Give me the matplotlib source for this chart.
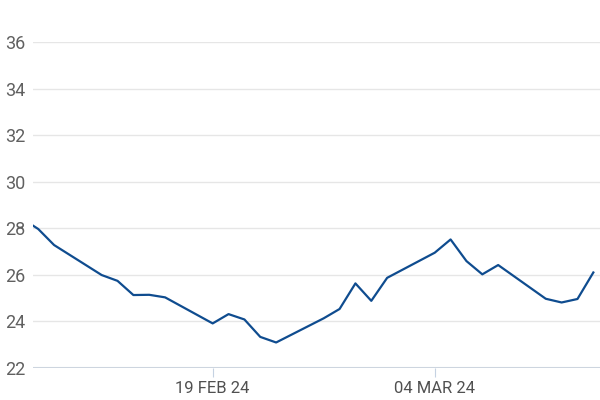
import matplotlib
matplotlib.use("Agg")
import matplotlib.pyplot as plt
import datetime as dt

dates = ["2024-02-07", "2024-02-08", "2024-02-09",
         "2024-02-12", "2024-02-13", "2024-02-14", "2024-02-15", "2024-02-16",
         "2024-02-19", "2024-02-20", "2024-02-21", "2024-02-22", "2024-02-23",
         "2024-02-26", "2024-02-27", "2024-02-28", "2024-02-29", "2024-03-01",
         "2024-03-04", "2024-03-05", "2024-03-06", "2024-03-07", "2024-03-08",
         "2024-03-11", "2024-03-12", "2024-03-13", "2024-03-14"]
values = [28.40, 27.96, 27.27,
          25.98, 25.73, 25.12, 25.13, 25.02,
          23.90, 24.30, 24.07, 23.32, 23.08,
          24.12, 24.52, 25.62, 24.87, 25.86,
          26.94, 27.51, 26.58, 26.01, 26.41,
          24.96, 24.80, 24.95, 26.09]
y_ticks = [22, 24, 26, 28, 30, 32, 34, 36]
x_tick_dates = ["2024-02-19", "2024-03-04"]
x_tick_labels = ["19 FEB 24", "04 MAR 24"]

plt.rcParams['font.family'] = ['Roboto', 'DejaVu Sans']

x = [dt.datetime.strptime(d, "%Y-%m-%d") for d in dates]

fig = plt.figure(figsize=(6, 4), dpi=100)
ax = fig.add_axes([0.0555, 0.081, 0.9445, 0.814])

ax.plot(x, values, color="#0f4c8f", linewidth=1.6, clip_on=True)

ref = dt.datetime(2024, 2, 19)
ax.set_xlim(ref - dt.timedelta(days=11.31), ref + dt.timedelta(days=24.42))
ax.set_ylim(22, 36)

ax.set_yticks(y_ticks)
ax.set_yticklabels([str(v) for v in y_ticks])
ax.set_xticks([dt.datetime.strptime(d, "%Y-%m-%d") for d in x_tick_dates])
ax.set_xticklabels(x_tick_labels)

for s in ax.spines.values():
    s.set_visible(False)

ax.grid(axis="y", color="#e6e6e6", linewidth=1.0)
ax.set_axisbelow(True)
ax.axhline(22, color="#cdd5df", linewidth=1.5, zorder=1)

ax.tick_params(axis="y", length=0, pad=6, labelsize=13, labelcolor="#606060")
ax.tick_params(axis="x", length=6.5, width=0.8, color="#c5d2e2", pad=3,
               labelsize=12, labelcolor="#505050")

fig.savefig("out.png", dpi=100)
